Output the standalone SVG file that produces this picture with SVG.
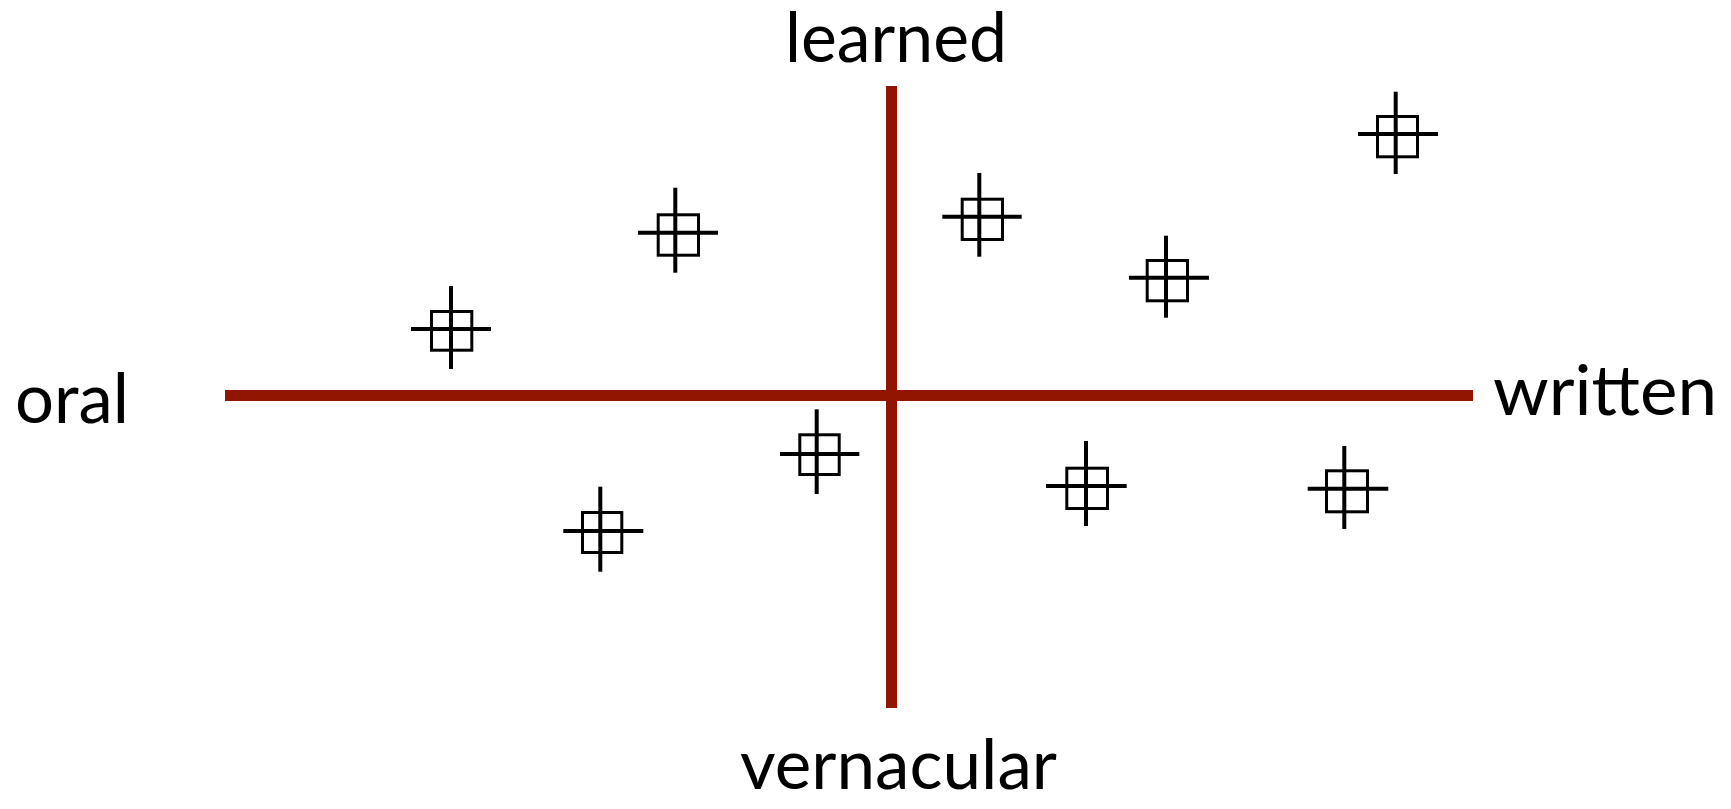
<svg xmlns="http://www.w3.org/2000/svg" width="1731" height="809" viewBox="0 0 1731 809">
  <style>
    .axis { stroke: #911500; stroke-width: 11; fill: none; }
    .cross { stroke: #000; stroke-width: 4; fill: none; }
    .box { stroke: #000; stroke-width: 3; fill: none; }
    .lbl { font-family: Lato, "Liberation Sans", sans-serif; font-size: 70px; fill: #000; }
  </style>
  <rect width="1731" height="809" fill="#fff"/>
  <g id="connectors">
    <line class="axis" x1="225" y1="395.5" x2="1473" y2="395.5"/>
    <line class="axis" x1="891.5" y1="86" x2="891.5" y2="708"/>
  </g>
  <g id="label-learned"><text class="lbl" x="785" y="62" textLength="222" lengthAdjust="spacingAndGlyphs">learned</text></g>
  <g id="label-oral"><text class="lbl" x="15" y="422.7" textLength="114" lengthAdjust="spacingAndGlyphs">oral</text></g>
  <g id="label-written"><text class="lbl" x="1493" y="415" textLength="224" lengthAdjust="spacingAndGlyphs">written</text></g>
  <g id="label-vernacular"><text class="lbl" x="740" y="789" textLength="317" lengthAdjust="spacingAndGlyphs">vernacular</text></g>
  <g id="marker1">
    <rect class="box" x="431.5" y="311.5" width="40.3" height="38.7"/>
    <line class="cross" x1="411" y1="329" x2="491" y2="329"/>
    <line class="cross" x1="451" y1="286" x2="451" y2="369"/>
  </g>
  <g id="marker2">
    <rect class="box" x="658.2" y="214.8" width="40.3" height="40.4"/>
    <line class="cross" x1="638" y1="232.7" x2="718" y2="232.7"/>
    <line class="cross" x1="675.3" y1="187.7" x2="675.3" y2="272.7"/>
  </g>
  <g id="marker3">
    <rect class="box" x="962.2" y="199.2" width="40.3" height="40.3"/>
    <line class="cross" x1="942.3" y1="216.7" x2="1021.7" y2="216.7"/>
    <line class="cross" x1="979.3" y1="173" x2="979.3" y2="256.7"/>
  </g>
  <g id="marker4">
    <rect class="box" x="1147.2" y="260.5" width="40.3" height="40.3"/>
    <line class="cross" x1="1129" y1="277.7" x2="1209" y2="277.7"/>
    <line class="cross" x1="1166" y1="235.7" x2="1166" y2="317.7"/>
  </g>
  <g id="marker5">
    <rect class="box" x="1377.5" y="116.5" width="40" height="40.3"/>
    <line class="cross" x1="1358" y1="134" x2="1438" y2="134"/>
    <line class="cross" x1="1395.7" y1="91.7" x2="1395.7" y2="174"/>
  </g>
  <g id="marker6">
    <rect class="box" x="799.8" y="434.8" width="39.4" height="39.7"/>
    <line class="cross" x1="780" y1="454" x2="859.3" y2="454"/>
    <line class="cross" x1="816.7" y1="409.3" x2="816.7" y2="494"/>
  </g>
  <g id="marker7">
    <rect class="box" x="582.5" y="512.5" width="39.3" height="40"/>
    <line class="cross" x1="563.3" y1="531" x2="643.3" y2="531"/>
    <line class="cross" x1="600.3" y1="486.7" x2="600.3" y2="571.7"/>
  </g>
  <g id="marker8">
    <rect class="box" x="1066.8" y="468.2" width="40.7" height="40.3"/>
    <line class="cross" x1="1046" y1="486" x2="1126.7" y2="486"/>
    <line class="cross" x1="1086" y1="441" x2="1086" y2="526"/>
  </g>
  <g id="marker9">
    <rect class="box" x="1326.5" y="470.8" width="41" height="41"/>
    <line class="cross" x1="1307.7" y1="488.7" x2="1388.3" y2="488.7"/>
    <line class="cross" x1="1344.3" y1="446" x2="1344.3" y2="529"/>
  </g>
</svg>
